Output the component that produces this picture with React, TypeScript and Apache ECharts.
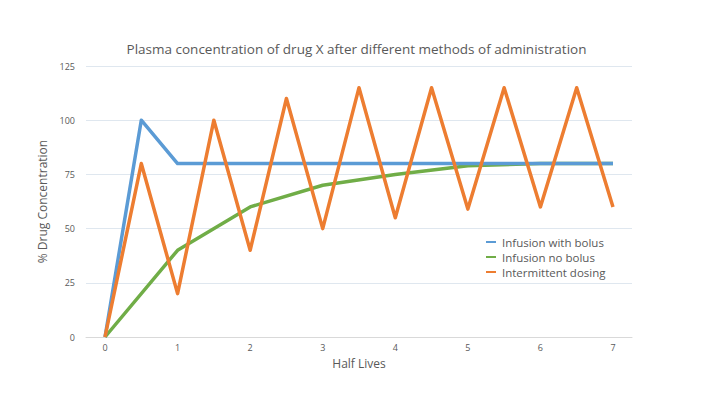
import React, { useEffect, useRef } from "react";
import * as echarts from "echarts";

const seriesNames = ["Infusion with bolus", "Infusion no bolus", "Intermittent dosing"];
const bolusX = [0, 0.5, 1, 2, 3, 4, 5, 6, 7];
const bolusY = [0, 100, 80, 80, 80, 80, 80, 80, 80];
const noBolusX = [0, 1, 2, 3, 4, 5, 6, 7];
const noBolusY = [0, 40, 60, 70, 75, 79, 80, 80];
const intermittentX = [0, 0.5, 1, 1.5, 2, 2.5, 3, 3.5, 4, 4.5, 5, 5.5, 6, 6.5, 7];
const intermittentY = [0, 80, 20, 100, 40, 110, 50, 115, 55, 115, 59, 115, 60, 115, 60];
const xTicks = [0, 1, 2, 3, 4, 5, 6, 7];
const colors = ["#5b9bd5", "#70ad47", "#ed7d31"];

const pairs = (xs: number[], ys: number[]) => xs.map((x, i) => [x, ys[i]]);

export default function App() {
  const ref = useRef<HTMLDivElement>(null);
  useEffect(() => {
    if (!ref.current) return;
    const chart = echarts.init(ref.current, null, { renderer: "svg" });
    const font = "Open Sans";
    chart.setOption({
      animation: false,
      backgroundColor: "#ffffff",
      textStyle: { fontFamily: font },
      title: {
        text: "Plasma concentration of drug X after different methods of administration",
        left: "center",
        top: 37,
        textStyle: { fontFamily: font, fontSize: 13.5, fontWeight: "normal", color: "#595959" },
      },
      legend: {
        orient: "vertical",
        left: 481,
        top: 231,
        itemWidth: 10,
        itemHeight: 2,
        itemGap: 3,
        icon: "rect",
        data: seriesNames,
        textStyle: { fontFamily: font, fontSize: 11.5, lineHeight: 11, color: "#595959", padding: [0, 0, 0, 1] },
      },
      grid: { left: 86, right: 81, top: 66, bottom: 59, containLabel: false },
      xAxis: {
        type: "value",
        min: -0.262,
        max: 7.262,
        name: "Half Lives",
        nameLocation: "middle",
        nameGap: 20,
        nameTextStyle: { fontFamily: font, fontSize: 12, color: "#595959" },
        axisLine: { show: true, lineStyle: { color: "#d9d9d9", width: 1 } },
        axisTick: { show: false },
        splitLine: { show: false },
        axisLabel: {
          fontFamily: font,
          fontSize: 9,
          color: "#595959",
          margin: 6,
          customValues: xTicks,
          showMinLabel: true,
          showMaxLabel: true,
        },
      },
      yAxis: {
        type: "value",
        min: 0,
        max: 125,
        interval: 25,
        name: "% Drug Concentration",
        nameLocation: "middle",
        nameGap: 31,
        nameTextStyle: { fontFamily: font, fontSize: 12, color: "#595959" },
        axisLine: { show: false },
        axisTick: { show: false },
        splitLine: { lineStyle: { color: "#dfe7ef", width: 1 } },
        axisLabel: { fontFamily: font, fontSize: 9, color: "#595959", margin: 11 },
      },
      series: [
        { name: seriesNames[0], type: "line", data: pairs(bolusX, bolusY) },
        { name: seriesNames[1], type: "line", data: pairs(noBolusX, noBolusY) },
        { name: seriesNames[2], type: "line", data: pairs(intermittentX, intermittentY) },
      ].map((s, i) => ({
        ...s,
        showSymbol: false,
        symbol: "none",
        color: colors[i],
        lineStyle: { color: colors[i], width: 3.5, join: "round" },
        z: i === 0 ? 3 : i === 1 ? 2 : 4,
      })),
    });
    return () => chart.dispose();
  }, []);
  return <div ref={ref} style={{ width: 713, height: 396, position: "absolute", left: 0, top: 0 }} />;
}
